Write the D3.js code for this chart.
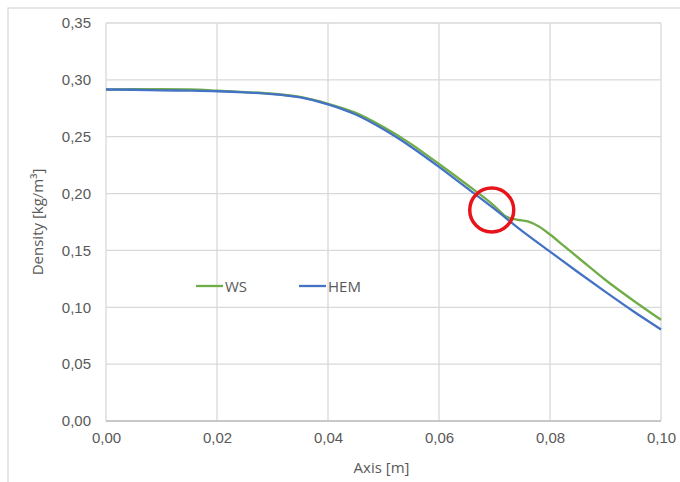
<!DOCTYPE html>
<meta charset="utf-8">
<style>
	body { margin: 0; background: #fff; font-family: "Open Sans", "Noto Sans", sans-serif; }
	text { fill: #595959; }
	.grid line { stroke: #d9d9d9; stroke-width: 1.3; }
	.axis path, .axis line { display: none; }
</style>
<body>
<svg id="chart" width="680" height="482"></svg>
<script src="https://d3js.org/d3.v7.min.js"></script>
<script>
	// axis positions [m]
	var axisPos = [0, 0.005, 0.01, 0.015, 0.02, 0.025, 0.03, 0.035, 0.04, 0.045, 0.05, 0.055, 0.06, 0.065, 0.07, 0.075, 0.08, 0.085, 0.09, 0.095, 0.1];
	var hemDensity = [0.2915, 0.2913, 0.2908, 0.2905, 0.2900, 0.2890, 0.2875, 0.2845, 0.2785, 0.2695, 0.2565, 0.2410, 0.2235, 0.2050, 0.1865, 0.1670, 0.1490, 0.1310, 0.1135, 0.0965, 0.0805];

	// WS has a few extra points round the kink
	var wsPos = [0, 0.005, 0.01, 0.015, 0.02, 0.025, 0.03, 0.035, 0.04, 0.045, 0.05, 0.055, 0.06, 0.065, 0.07, 0.072, 0.074, 0.076, 0.078, 0.08, 0.0825, 0.085, 0.09, 0.095, 0.1];
	var wsDensity = [0.2915, 0.2918, 0.2918, 0.2915, 0.2905, 0.2893, 0.2878, 0.2850, 0.2790, 0.2710, 0.2585, 0.2435, 0.2260, 0.2080, 0.1890, 0.1800, 0.1770, 0.1755, 0.1710, 0.1640, 0.1540, 0.1440, 0.1240, 0.1060, 0.0890];

	var xTicks = [0, 0.02, 0.04, 0.06, 0.08, 0.1];
	var yTicks = [0, 0.05, 0.1, 0.15, 0.2, 0.25, 0.3, 0.35];
	var seriesNames = ["WS", "HEM"];
	var seriesColors = ["#70ad47", "#4472c4"];
	var marked = [0.0695, 0.1856]; // red circle spot

	var svg = d3.select("#chart");
	var margin = {left: 106, right: 19, top: 23, bottom: 61};
	var w = 680 - margin.left - margin.right,
		h = 482 - margin.top - margin.bottom;

	var fmt = function(v) { return d3.format(".2f")(v).replace(".", ","); };

	// outer frame
	svg.append("rect")
		.attr("x", 8).attr("y", 8)
		.attr("width", 700).attr("height", 500)
		.attr("fill", "none").attr("stroke", "#d9d9d9").attr("stroke-width", 1.3);

	var x = d3.scaleLinear().domain([0, 0.1]).range([0, w]);
	var y = d3.scaleLinear().domain([0, 0.35]).range([h, 0]);

	var g = svg.append("g").attr("transform", "translate(" + margin.left + "," + margin.top + ")");

	g.append("g").attr("class", "grid")
		.selectAll("line.h").data(yTicks).enter().append("line")
		.attr("x1", 0).attr("x2", w)
		.attr("y1", function(d) { return y(d); })
		.attr("y2", function(d) { return y(d); });

	g.append("g").attr("class", "grid")
		.selectAll("line.v").data(xTicks).enter().append("line")
		.attr("y1", 0).attr("y2", h)
		.attr("x1", function(d) { return x(d); })
		.attr("x2", function(d) { return x(d); });

	// bottom axis line a bit darker
	g.append("line")
		.attr("x1", 0).attr("x2", w).attr("y1", y(0)).attr("y2", y(0))
		.attr("stroke", "#bfbfbf").attr("stroke-width", 1.3);

	var xAxis = g.append("g").attr("class", "axis")
		.attr("transform", "translate(0," + h + ")")
		.call(d3.axisBottom(x).tickValues(xTicks).tickFormat(fmt).tickSize(0).tickPadding(11));
	xAxis.selectAll("text").style("font-size", "15px").attr("fill", "#595959");

	var yAxis = g.append("g").attr("class", "axis")
		.call(d3.axisLeft(y).tickValues(yTicks).tickFormat(fmt).tickSize(0).tickPadding(15));
	yAxis.selectAll("text").style("font-size", "15px").attr("fill", "#595959");

	svg.append("text")
		.attr("x", margin.left + w / 2 - 2).attr("y", 473)
		.attr("text-anchor", "middle").style("font-size", "15px")
		.text("Axis [m]");

	svg.append("text")
		.attr("transform", "translate(43," + (margin.top + h / 2) + ") rotate(-90)")
		.attr("text-anchor", "middle").style("font-size", "15px")
		.text("Density [kg/m³]");

	var line = d3.line()
		.x(function(d) { return x(d[0]); })
		.y(function(d) { return y(d[1]); })
		.curve(d3.curveMonotoneX);

	var series = [
		d3.zip(wsPos, wsDensity),
		d3.zip(axisPos, hemDensity)
	];

	g.selectAll(".series").data(series).enter().append("path")
		.attr("class", "series")
		.attr("d", line)
		.attr("fill", "none")
		.attr("stroke", function(d, i) { return seriesColors[i]; })
		.attr("stroke-width", 2.3)
		.attr("stroke-linejoin", "round");

	// legend inside the plot
	var legend = svg.append("g").attr("transform", "translate(196,286)");
	var item = legend.selectAll("g").data(seriesNames).enter().append("g")
		.attr("transform", function(d, i) { return "translate(" + (i * 103) + ",0)"; });
	item.append("line")
		.attr("x1", 0).attr("x2", 27).attr("y1", 0).attr("y2", 0)
		.attr("stroke", function(d, i) { return seriesColors[i]; })
		.attr("stroke-width", 2.3);
	item.append("text")
		.attr("x", 29).attr("y", 5.5)
		.style("font-size", "15px")
		.text(function(d) { return d; });

	g.append("circle")
		.attr("cx", x(marked[0])).attr("cy", y(marked[1]))
		.attr("r", 22)
		.attr("fill", "none").attr("stroke", "#e8141b").attr("stroke-width", 3.5);
</script>
</body>
